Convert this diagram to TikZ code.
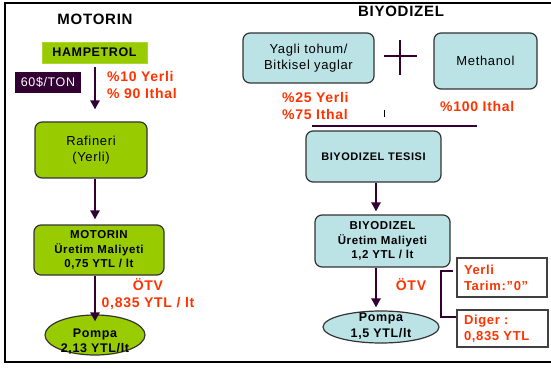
\documentclass[tikz,border=0pt]{standalone}
\usepackage{fontspec}
\setmainfont{Liberation Sans}[LetterSpace=5]
\usetikzlibrary{shapes.geometric,arrows.meta}
\definecolor{grn}{RGB}{153,204,0}
\definecolor{lblue}{RGB}{187,226,229}
\definecolor{mar}{RGB}{51,0,51}
\definecolor{rd}{RGB}{255,51,0}
\begin{document}
\begin{tikzpicture}[x=1pt,y=-1pt,
  box/.style={draw=black!80, line width=1.2pt, rounded corners=7pt, align=center, inner sep=0pt},
  gbox/.style={box, fill=grn},
  bbox/.style={box, fill=lblue},
  nfont/.style={font=\fontsize{13}{16}\selectfont},
  bfont/.style={font=\fontsize{11.5}{14.5}\selectfont\bfseries},
  ttl/.style={font=\fontsize{15}{18}\selectfont\bfseries, inner sep=0pt},
  arr/.style={draw=mar, line width=2.4pt, -{Triangle[length=9pt,width=9pt]}},
  redt/.style={text=rd, font=\fontsize{14}{17}\selectfont\bfseries, inner sep=0pt},
  oval/.style={ellipse, draw=black!80, line width=1.2pt, inner sep=0pt},
  wbox/.style={draw=black!75, line width=1.2pt, fill=white, align=left, inner xsep=7pt, inner ysep=0pt},
  thin/.style={draw=mar, line width=1.3pt}
]
\useasboundingbox (0,0) rectangle (551,374);
\fill[white] (0,0) rectangle (551,374);
\draw[line width=2.6pt] (565,3) -- (5,3) -- (5,362) -- (565,362);

% ---------- left: MOTORIN ----------
\coordinate (axL) at (95,0);
\node[ttl] (t1) at (95,19) {MOTORIN};
\node[fill=grn, draw=grn!80!white, line width=0.8pt, minimum width=105pt, minimum height=21pt, inner sep=0pt,
      font=\fontsize{12.5}{16}\selectfont\bfseries] (hp) at (94.5,52.5) {HAMPETROL};
\node[fill=mar, text=white, minimum width=66pt, minimum height=21pt, inner sep=0pt,
      font=\fontsize{12.5}{16}\selectfont] (ton) at (48,82.5) {60\$/TON};
\node[redt, align=left, anchor=base west] (r1) at (107,99) {\%10 Yerli\\\% 90 Ithal};
\node[gbox, nfont, minimum width=112pt, minimum height=56pt] (raf) at (91,150) {Rafineri\\(Yerli)};
\node[gbox, bfont, minimum width=130pt, minimum height=50pt] (mot) at (99,250) {MOTORIN\\Üretim Maliyeti\\0,75 YTL / lt};
\node[redt, align=center, anchor=base] (otv1) at (148,307) {ÖTV\\0,835 YTL / lt};
\node[oval, fill=grn, minimum width=100pt, minimum height=40pt] (p1) at (95,335) {};
\node[align=center, inner sep=0pt, font=\fontsize{12.5}{15}\selectfont\bfseries] (p1t) at (95,342) {Pompa\\2,13 YTL/lt};

\draw[arr, shorten <=4pt, shorten >=12pt] (hp.south -| axL) -- (raf.north -| axL);
\draw[arr, shorten >=5pt] (raf.south -| axL) -- (mot.north -| axL);
\draw[arr, shorten >=-7pt] (mot.south -| axL) -- (p1.north -| axL);

% ---------- right: BIYODIZEL ----------
\coordinate (axR) at (376,0);
\node[ttl] (t2) at (401,11) {BIYODIZEL};
\node[bbox, nfont, minimum width=131pt, minimum height=50pt] (yag) at (308.5,58) {Yagli tohum/\\Bitkisel yaglar};
\coordinate (plus) at (400,56);
\draw[mar, line width=2.2pt] ([xshift=-16pt]plus) -- ([xshift=17pt]plus);
\draw[mar, line width=2.2pt] ([yshift=-19pt]plus) -- ([yshift=16pt]plus);
\node[bbox, nfont, minimum width=103pt, minimum height=56pt] (meth) at (485.5,61) {Methanol};
\node[redt, align=left, anchor=base west] (r2) at (282,120) {\%25 Yerli\\\%75 Ithal};
\node[redt, anchor=base west] (r3) at (440,112) {\%100 Ithal};
\coordinate (tk) at (384,110);
\draw[line width=1pt] (tk) -- ++(0,7);
\node[bbox, font=\fontsize{11}{14}\selectfont\bfseries, minimum width=135pt, minimum height=51pt] (tes) at (373.5,156.5) {BIYODIZEL TESISI};
\coordinate (hl1) at (312,126);
\coordinate (hl2) at (477,126);
\draw[thin] (hl1) -- (hl2);
\node[bbox, bfont, minimum width=135pt, minimum height=52pt] (bmot) at (382.5,241) {BIYODIZEL\\Üretim Maliyeti\\1,2 YTL / lt};
\node[redt, anchor=base] (otv2) at (411,290) {ÖTV};
\node[oval, fill=lblue, minimum width=116pt, minimum height=32pt] (p2) at (381,327) {};
\node[align=center, inner sep=0pt, font=\fontsize{12.5}{16}\selectfont\bfseries] (p2t) at (381,326) {Pompa\\1,5 YTL/lt};

\draw[arr, shorten >=3pt] (tes.south -| axR) -- (bmot.north -| axR);
\draw[arr, line width=2.8pt, shorten >=3pt] (bmot.south -| axR) -- (p2.north -| axR);

\node[wbox, redt, inner xsep=7pt, text width=76pt, minimum height=39pt, align=left,
      font=\fontsize{13}{16}\selectfont\bfseries] (yer) at (502,277.5) {Yerli\\Tarim:"0"};
\node[wbox, redt, inner xsep=7pt, text width=77pt, minimum height=37pt, align=left,
      font=\fontsize{13}{16}\selectfont\bfseries] (dig) at (502.5,328.5) {Diger :\\0,835 YTL};
\coordinate (b1) at (453,271);
\draw[thin] (b1) -- (441,271) -- (441,317) -- (dig.west |- 441,317);
\end{tikzpicture}
\end{document}
